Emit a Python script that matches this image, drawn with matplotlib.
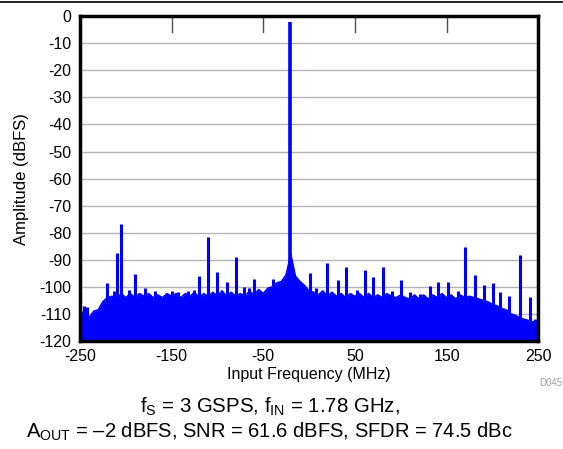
"""FFT spectrum: output amplitude vs input frequency."""

import numpy as np
import matplotlib
matplotlib.use("Agg")
import matplotlib.pyplot as plt
from matplotlib.lines import Line2D

BLUE = "#0000ff"
GRID = "#b4b4b4"

plt.rcParams.update({
    "font.family": ["Liberation Sans", "DejaVu Sans"],
    "mathtext.fontset": "custom",
    "mathtext.rm": "Liberation Sans",
    "mathtext.it": "Liberation Sans",
    "axes.unicode_minus": False,
    "font.size": 11.5,
})

# noise floor upper envelope, sampled every 5 MHz from -250 to 250
noise_freq = np.arange(-250, 251, 5)
noise_top = [
    -110, -109, -111.5, -109, -108.5, -105.5, -104, -103.5, -104.5, -102.5,
    -104, -102.5, -104, -102.5, -103.5, -102.5, -104, -103, -104, -102.5,
    -103.5, -102.5, -104, -102.5, -103.5, -102, -104, -102.5, -103.5, -102,
    -103.5, -101.5, -103.5, -102, -103.5, -102.5, -103.5, -101.5, -103, -101,
    -102.5, -100.5, -100, -98.5, -98, -95.5, -88, -96, -98, -99.5,
    -101.5, -102, -103, -101.5, -103.5, -102, -103.5, -102.5, -104, -102.5,
    -103.5, -102.5, -104, -102.5, -104, -103, -104, -102.5, -103.5, -104,
    -103, -104, -104.5, -103, -104.5, -103, -104.5, -103, -104, -102.5,
    -104, -103, -104.5, -103, -104, -103.5, -104, -104.5, -105, -105.5,
    -106.5, -107, -108, -108.5, -110, -110.5, -111.5, -112, -112.5, -113,
    -113.5,
]

# fundamental tone
tone_freq = -20.5
tone_level = -2.2

# spurs
spur_freq = [-246, -242.5, -220, -210, -205, -190, -179, -126, -120, -110,
             -101, -90, -80, -60, -39, 0.5, 20, 31, 40.5, 61,
             70, 80.5, 100.5, 110.5, 121, 131.5, 141, 152, 170.5, 180.5,
             190.5, 200.5, 230.5, 240.5, 246.5,
             -213, -196, -168, -150, -143, -132, -71, -66, 8, 52, 90, 163, 208, 218]
spur_level = [-107, -107.5, -98.7, -87.6, -76.8, -95.4, -100.5, -101, -96, -81.5,
              -94.4, -98.1, -88.9, -97.2, -97.2, -94.8, -91.3, -97.5, -92.8, -93.8,
              -96.5, -92.6, -97.5, -101.8, -102.6, -99.7, -98.1, -98.3, -85.4, -95.6,
              -99.3, -98.5, -88.2, -103.9, -112,
              -101.5, -101, -101.5, -101.5, -102, -101.5, -100, -100.5, -100.5, -101,
              -101.5, -101.5, -102, -103.5]

fig = plt.figure(figsize=(5.63, 4.49), dpi=100)
ax = fig.add_axes([0.142, 0.2405, 0.814, 0.7235])

ax.fill_between(noise_freq, -120, noise_top, color=BLUE, lw=0, zorder=2)
ax.plot(noise_freq, noise_top, color=BLUE, lw=1.2, zorder=2)
ax.vlines(spur_freq, -120, spur_level, color=BLUE, lw=2.2, zorder=3)
ax.vlines([tone_freq], -120, [tone_level], color=BLUE, lw=2.6, zorder=3)

ax.set_xlim(-250, 250)
ax.set_ylim(-120, 0)
ax.set_yticks(np.arange(-120, 1, 10))
ax.set_xticks([-250, -150, -50, 50, 150, 250])
ax.tick_params(axis="both", length=0, labelsize=11.5, pad=6)
ax.grid(axis="y", color=GRID, lw=1, zorder=1)

# inward tick marks along the top edge
for xt in [-150, -50, 50, 150]:
    ax.plot([xt, xt], [0, -5.8], color="#505050", lw=1, zorder=4, clip_on=False)

for sp in ax.spines.values():
    sp.set_linewidth(2.5)
    sp.set_zorder(5)

ax.set_xlabel("Input Frequency (MHz)", fontsize=11.5, labelpad=2)
ax.set_ylabel("Amplitude (dBFS)", fontsize=12, labelpad=8)

fig.text(0.999, 0.148, "D045", fontsize=7, color="#a0a0a0", ha="right", va="center")
fig.text(0.48, 0.093, r"$\mathregular{f_S}$ = 3 GSPS, $\mathregular{f_{IN}}$ = 1.78 GHz,",
         fontsize=14.7, ha="center", va="center")
fig.text(0.478, 0.038,
         r"$\mathregular{A_{OUT}}$ = –2 dBFS, SNR = 61.6 dBFS, SFDR = 74.5 dBc",
         fontsize=14.5, ha="center", va="center")

fig.add_artist(Line2D([0, 1], [0.996, 0.996], color="black", lw=1.2))

fig.savefig("out.png", dpi=100)
